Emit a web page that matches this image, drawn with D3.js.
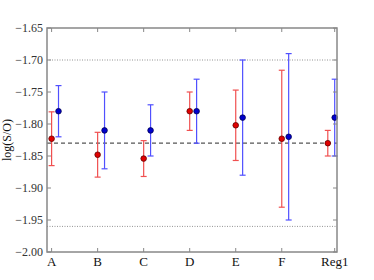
<!DOCTYPE html>
<html>
<head>
<meta charset="utf-8">
<script src="https://cdn.jsdelivr.net/npm/d3@7"></script>
<style>
  body { margin: 0; background: #fff; }
</style>
</head>
<body>
<div id="chart"></div>
<script>
// categories and their x positions (Reg1 sits a bit further right)
const categories = ['A', 'B', 'C', 'D', 'E', 'F', 'Reg1'];
const tickPos = [0, 1, 2, 3, 4, 5, 6.15];

// red series (at the tick) and blue series (offset right)
const redX = [0, 1, 2, 3, 4, 5, 6];
const redVal = [-1.823, -1.848, -1.854, -1.780, -1.802, -1.823, -1.830];
const redErr = [0.042, 0.035, 0.028, 0.030, 0.055, 0.107, 0.020];

const blueX = [0.15, 1.15, 2.15, 3.15, 4.15, 5.15, 6.15];
const blueVal = [-1.780, -1.810, -1.810, -1.780, -1.790, -1.820, -1.790];
const blueErr = [0.040, 0.060, 0.040, 0.050, 0.090, 0.130, 0.060];

const yTicks = [-1.65, -1.70, -1.75, -1.80, -1.85, -1.90, -1.95, -2.00];
const meanLine = -1.83;
const boundLines = [-1.70, -1.96];

const width = 374;
const height = 280;
const margin = {top: 28, right: 37, bottom: 28, left: 47};
const serif = '"Liberation Serif", "DejaVu Serif", serif';

const x = d3.scaleLinear().domain([-0.1, 6.2]).range([margin.left, width - margin.right]);
const y = d3.scaleLinear().domain([-2.0, -1.65]).range([height - margin.bottom, margin.top]);

const svg = d3.create("svg")
    .attr("width", width)
    .attr("height", height)
    .attr("viewBox", [0, 0, width, height])
    .attr("font-family", serif);

const fmt = d => d3.format(".2f")(d).replace('-', '\u2212');

// reference lines
svg.append("line")
    .attr("x1", x(-0.1)).attr("x2", x(6.2))
    .attr("y1", y(meanLine)).attr("y2", y(meanLine))
    .attr("stroke", "#555").attr("stroke-width", 1.2)
    .attr("stroke-dasharray", "4,3");

svg.selectAll(".bound")
    .data(boundLines)
    .enter()
    .append("line")
    .attr("x1", x(-0.1)).attr("x2", x(6.2))
    .attr("y1", d => y(d)).attr("y2", d => y(d))
    .attr("stroke", "#777").attr("stroke-width", 0.8)
    .attr("stroke-dasharray", "1,1.5");

// error bars + points
function drawSeries(xs, vals, errs, lineColor, fill, edge) {
    const g = svg.append("g");
    const rows = vals.map((v, i) => ({x: xs[i], v: v, e: errs[i]}));
    const cap = 3;
    g.selectAll(".bar").data(rows).enter().append("line")
        .attr("x1", d => x(d.x)).attr("x2", d => x(d.x))
        .attr("y1", d => y(d.v + d.e)).attr("y2", d => y(d.v - d.e))
        .attr("stroke", lineColor).attr("stroke-width", 1.2);
    g.selectAll(".capTop").data(rows).enter().append("line")
        .attr("x1", d => x(d.x) - cap).attr("x2", d => x(d.x) + cap)
        .attr("y1", d => y(d.v + d.e)).attr("y2", d => y(d.v + d.e))
        .attr("stroke", lineColor).attr("stroke-width", 1.2);
    g.selectAll(".capBot").data(rows).enter().append("line")
        .attr("x1", d => x(d.x) - cap).attr("x2", d => x(d.x) + cap)
        .attr("y1", d => y(d.v - d.e)).attr("y2", d => y(d.v - d.e))
        .attr("stroke", lineColor).attr("stroke-width", 1.2);
    g.selectAll("circle").data(rows).enter().append("circle")
        .attr("cx", d => x(d.x)).attr("cy", d => y(d.v))
        .attr("r", 2.8)
        .attr("fill", fill).attr("stroke", edge).attr("stroke-width", 0.8);
}

drawSeries(redX, redVal, redErr, "#f05050", "#e00000", "#600000");
drawSeries(blueX, blueVal, blueErr, "#5050ff", "#0000cc", "#000050");

// frame
const frameColor = "#888";
svg.append("rect")
    .attr("x", x(-0.1)).attr("y", y(-1.65))
    .attr("width", x(6.2) - x(-0.1)).attr("height", y(-2.0) - y(-1.65))
    .attr("fill", "none").attr("stroke", frameColor).attr("stroke-width", 1.5);

// inward ticks on all four sides
const tickLen = 4;
const ticks = svg.append("g").attr("stroke", frameColor).attr("stroke-width", 1);
yTicks.forEach(t => {
    ticks.append("line").attr("x1", x(-0.1)).attr("x2", x(-0.1) + tickLen)
        .attr("y1", y(t)).attr("y2", y(t));
    ticks.append("line").attr("x1", x(6.2)).attr("x2", x(6.2) - tickLen)
        .attr("y1", y(t)).attr("y2", y(t));
});
tickPos.forEach(t => {
    ticks.append("line").attr("x1", x(t)).attr("x2", x(t))
        .attr("y1", y(-2.0)).attr("y2", y(-2.0) - tickLen);
    ticks.append("line").attr("x1", x(t)).attr("x2", x(t))
        .attr("y1", y(-1.65)).attr("y2", y(-1.65) + tickLen);
});

// tick labels
svg.selectAll(".ylab").data(yTicks).enter().append("text")
    .attr("x", x(-0.1) - 4).attr("y", d => y(d))
    .attr("dy", "0.35em")
    .attr("text-anchor", "end")
    .attr("font-size", 12)
    .attr("fill", "#333")
    .text(fmt);

svg.selectAll(".xlab").data(categories).enter().append("text")
    .attr("x", (d, i) => x(tickPos[i])).attr("y", y(-2.0) + 14)
    .attr("text-anchor", "middle")
    .attr("font-size", 13)
    .attr("fill", "#111")
    .text(d => d);

// y label
svg.append("text")
    .attr("transform", `translate(11, ${y(-1.825)}) rotate(-90)`)
    .attr("text-anchor", "middle")
    .attr("font-size", 12)
    .attr("fill", "#111")
    .text("log(S/O)");

document.querySelector('#chart').appendChild(svg.node());
</script>
</body>
</html>
